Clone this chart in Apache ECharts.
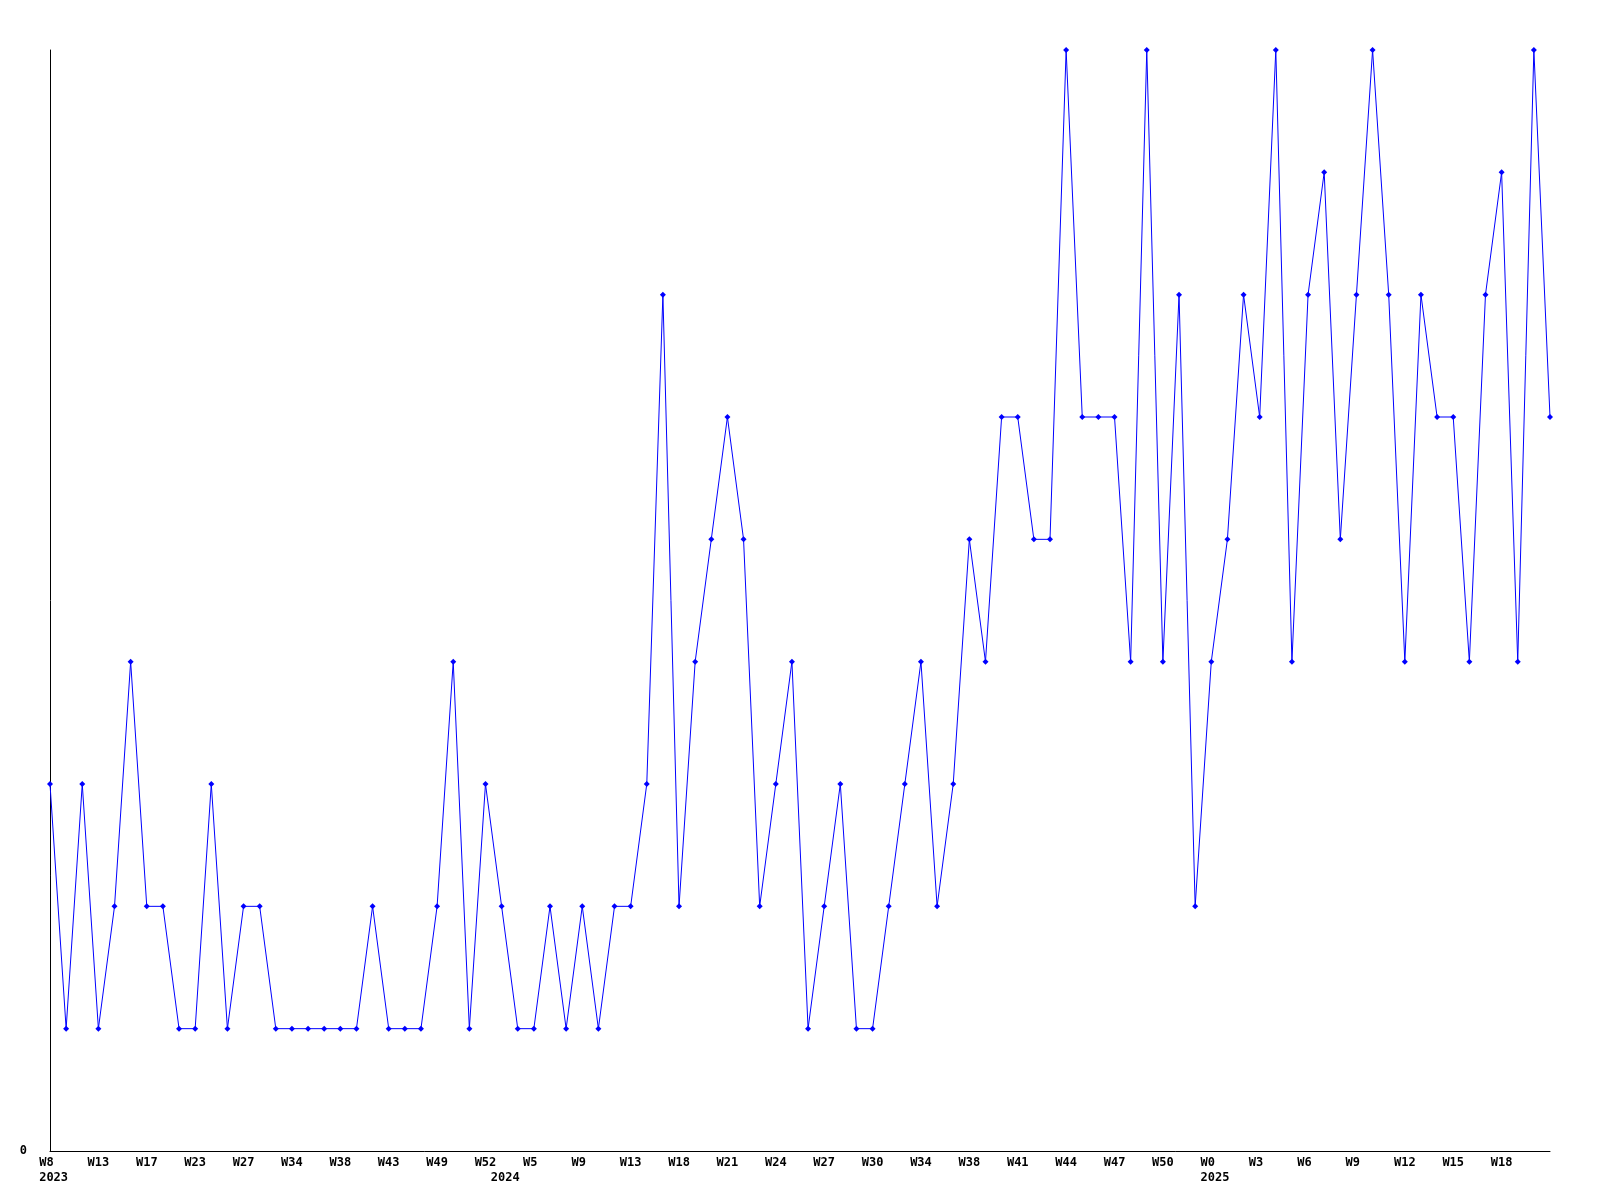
<!DOCTYPE html>
<html>
<head>
<meta charset="utf-8">
<script src="https://cdn.jsdelivr.net/npm/echarts@6/dist/echarts.min.js"></script>
<style>html,body{margin:0;padding:0;background:#fff;}#c{width:1600px;height:1200px;}</style>
</head>
<body>
<div id="c"></div>
<script>
const categories = [
  'W8','W9','W11','W13','W14','W16','W17','W19','W21','W23','W24','W26','W27','W29','W31','W34','W35','W37','W38','W40','W41','W43','W45','W47','W49','W50','W51','W52',
  'W1','W3','W5','W6','W8','W9','W10','W12','W13','W15','W16','W18','W19','W20','W21','W22','W23','W24','W25','W26','W27','W28','W29','W30','W31','W33','W34','W35','W37','W38','W39','W40','W41','W42','W43','W44','W45','W46','W47','W48','W49','W50','W51','W52',
  'W0','W1','W2','W3','W4','W5','W6','W7','W8','W9','W10','W11','W12','W13','W14','W15','W16','W17','W18','W19','W20','W21'
];
const values = [
  3,1,3,1,2,4,2,2,1,1, 3,1,2,2,1,1,1,1,1,1, 2,1,1,1,2,4,1,3,2,1,
  1,2,1,2,1,2,2,3,7,2, 4,5,6,5,2,3,4,1,2,3, 1,1,2,3,4,2,3,5,4,6,
  6,5,5,9,6,6,6,4,9,4, 7,2,4,5,7,6,9,4,7,8, 5,7,9,7,4,7,6,6,4,7,
  8,4,9,6
];
const yearIndex = [0, 28, 72];
const yearText = ['2023', '2024', '2025'];
const yTicks = [0];

const font = {fontFamily: 'DejaVu Sans Mono', fontWeight: 'bold', fontSize: 12, color: '#000'};

function pad3(s) { while (s.length < 3) s += ' '; return s; }

const chart = echarts.init(document.getElementById('c'), null, {renderer: 'canvas'});
chart.setOption({
  animation: false,
  backgroundColor: '#fff',
  grid: {left: 50, right: 50, top: 50, bottom: 49, containLabel: false},
  xAxis: {
    type: 'category',
    data: categories,
    boundaryGap: false,
    axisLine: {lineStyle: {color: '#000', width: 1}},
    axisTick: {show: false},
    splitLine: {show: false},
    axisLabel: Object.assign({}, font, {
      margin: 4,
      align: 'center',
      lineHeight: 15.5,
      interval: function (idx) { return (idx % 3 === 0 && idx < categories.length - 1) || yearIndex.indexOf(idx) >= 0; },
      formatter: function (v, idx) {
        const wk = (idx % 3 === 0) ? pad3(v) : '   ';
        const yi = yearIndex.indexOf(idx);
        return yi >= 0 ? wk + '\n ' + yearText[yi] : wk;
      }
    })
  },
  yAxis: {
    type: 'value',
    min: 0,
    max: 9,
    interval: 9,
    axisLine: {show: true, lineStyle: {color: '#000', width: 1}},
    axisTick: {show: false},
    splitLine: {show: false},
    axisLabel: Object.assign({}, font, {
      margin: 23,
      formatter: function (v) { return yTicks.indexOf(v) >= 0 ? String(v) : ''; }
    })
  },
  series: [{
    type: 'line',
    data: values,
    symbol: 'diamond',
    symbolSize: 6,
    showSymbol: true,
    lineStyle: {color: '#0000ff', width: 1},
    itemStyle: {color: '#0000ff'},
    emphasis: {disabled: true}
  }]
});
</script>
</body>
</html>
